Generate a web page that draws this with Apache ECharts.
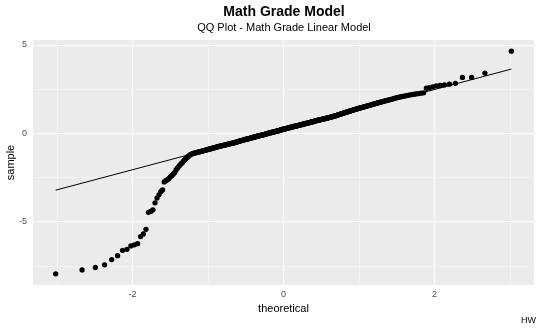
<!DOCTYPE html>
<html>
<head>
<meta charset="utf-8">
<script src="https://cdn.jsdelivr.net/npm/echarts@6/dist/echarts.min.js"></script>
<style>
  html, body { margin: 0; padding: 0; background: #ffffff; }
  #chart { width: 540px; height: 333px; }
</style>
</head>
<body>
<div id="chart"></div>
<script>
// Sorted residuals of the math grade linear model (395 students)
const sampleResiduals = [
  -7.95, -7.73, -7.59, -7.44, -7.14, -6.92, -6.62, -6.56, -6.37, -6.31, -6.24, -5.84, -5.69, -5.43,
  -4.47, -4.42, -4.33, -3.93, -3.66, -3.48, -3.30, -3.20, -2.75, -2.68, -2.62, -2.55, -2.45, -2.38, -2.30,
  -2.22, -2.07, -1.97, -1.88, -1.80, -1.72, -1.66, -1.58, -1.50, -1.44, -1.38, -1.32, -1.27, -1.22, -1.19,
  -1.16, -1.14, -1.13, -1.11, -1.10,
  -1.08, -1.07, -1.06, -1.04, -1.03, -1.02, -1.00, -0.99, -0.98, -0.96,
  -0.95, -0.94, -0.93, -0.91, -0.90, -0.89, -0.88, -0.87, -0.85, -0.84,
  -0.83, -0.82, -0.81, -0.80, -0.79, -0.77, -0.76, -0.75, -0.74, -0.73,
  -0.72, -0.71, -0.70, -0.69, -0.68, -0.68, -0.67, -0.66, -0.65, -0.64,
  -0.63, -0.62, -0.61, -0.61, -0.60, -0.59, -0.58, -0.57, -0.57, -0.56,
  -0.55, -0.54, -0.53, -0.52, -0.51, -0.50, -0.49, -0.48, -0.47, -0.46,
  -0.45, -0.44, -0.43, -0.42, -0.41, -0.41, -0.40, -0.39, -0.38, -0.37,
  -0.36, -0.35, -0.34, -0.34, -0.33, -0.32, -0.31, -0.30, -0.30, -0.29,
  -0.28, -0.27, -0.26, -0.26, -0.25, -0.24, -0.23, -0.22, -0.22, -0.21,
  -0.20, -0.19, -0.18, -0.18, -0.17, -0.16, -0.15, -0.14, -0.14, -0.13,
  -0.12, -0.11, -0.11, -0.10, -0.09, -0.09, -0.08, -0.07, -0.07, -0.06,
  -0.05, -0.04, -0.03, -0.03, -0.02, -0.01, 0.00, 0.01, 0.01, 0.02,
  0.03, 0.04, 0.04, 0.05, 0.06, 0.06, 0.07, 0.08, 0.08, 0.09,
  0.10, 0.11, 0.11, 0.12, 0.13, 0.13, 0.14, 0.15, 0.15, 0.16,
  0.17, 0.18, 0.19, 0.19, 0.20, 0.21, 0.22, 0.23, 0.23, 0.24,
  0.25, 0.26, 0.26, 0.27, 0.28, 0.28, 0.29, 0.30, 0.30, 0.31,
  0.32, 0.33, 0.33, 0.34, 0.35, 0.35, 0.36, 0.37, 0.37, 0.38,
  0.39, 0.40, 0.40, 0.41, 0.42, 0.42, 0.43, 0.44, 0.44, 0.45,
  0.46, 0.47, 0.47, 0.48, 0.49, 0.49, 0.50, 0.51, 0.51, 0.52,
  0.53, 0.54, 0.54, 0.55, 0.56, 0.56, 0.57, 0.58, 0.58, 0.59,
  0.60, 0.61, 0.62, 0.62, 0.63, 0.64, 0.65, 0.66, 0.66, 0.67,
  0.68, 0.69, 0.70, 0.70, 0.71, 0.72, 0.73, 0.74, 0.74, 0.75,
  0.76, 0.77, 0.77, 0.78, 0.79, 0.79, 0.80, 0.81, 0.81, 0.82,
  0.83, 0.84, 0.85, 0.85, 0.86, 0.87, 0.88, 0.89, 0.89, 0.90,
  0.91, 0.92, 0.93, 0.94, 0.95, 0.96, 0.97, 0.98, 0.99, 1.00,
  1.01, 1.02, 1.03, 1.05, 1.06, 1.07, 1.08, 1.09, 1.11, 1.12,
  1.13, 1.14, 1.15, 1.17, 1.18, 1.19, 1.20, 1.21, 1.23, 1.24,
  1.25, 1.26, 1.28, 1.29, 1.30, 1.32, 1.33, 1.34, 1.35, 1.37,
  1.38, 1.39, 1.41, 1.42, 1.43, 1.45, 1.46, 1.47, 1.48, 1.50,
  1.51, 1.52, 1.54, 1.55, 1.57, 1.58, 1.60, 1.61, 1.63, 1.64,
  1.66, 1.68, 1.69, 1.71, 1.73, 1.74, 1.76, 1.78, 1.79, 1.81,
  1.83, 1.85, 1.87, 1.88, 1.90,
  1.92, 1.94, 1.96, 1.99, 2.01,
  2.03, 2.05, 2.07, 2.09, 2.11,
  2.13, 2.15, 2.17, 2.19, 2.21,
  2.23, 2.25, 2.27, 2.29,
  2.55, 2.58, 2.63, 2.68, 2.71, 2.74, 2.78, 2.83, 3.16, 3.16, 3.41, 4.65
];

// Axis breaks
const xMajorBreaks = [-2, 0, 2];
const xMinorBreaks = [-3, -1, 1, 3];
const yMajorBreaks = [-5, 0, 5];
const yMinorBreaks = [-7.5, -2.5, 2.5];

const FONT = '"Liberation Sans", Arial, sans-serif';

// Inverse standard normal CDF (Acklam's rational approximation)
function normalQuantile(p) {
  const a = [-3.969683028665376e+01, 2.209460984245205e+02, -2.759285104469687e+02,
             1.383577518672690e+02, -3.066479806614716e+01, 2.506628277459239e+00];
  const b = [-5.447609879822406e+01, 1.615858368580409e+02, -1.556989798598866e+02,
             6.680131188771972e+01, -1.328068155288572e+01];
  const c = [-7.784894002430293e-03, -3.223964580411365e-01, -2.400758277161838e+00,
             -2.549732539343734e+00, 4.374664141464968e+00, 2.938163982698783e+00];
  const d = [7.784695709041462e-03, 3.224671290700398e-01, 2.445134137142996e+00,
             3.754408661907416e+00];
  const pLow = 0.02425, pHigh = 1 - pLow;
  let q, r;
  if (p < pLow) {
    q = Math.sqrt(-2 * Math.log(p));
    return (((((c[0] * q + c[1]) * q + c[2]) * q + c[3]) * q + c[4]) * q + c[5]) /
           ((((d[0] * q + d[1]) * q + d[2]) * q + d[3]) * q + 1);
  }
  if (p <= pHigh) {
    q = p - 0.5; r = q * q;
    return (((((a[0] * r + a[1]) * r + a[2]) * r + a[3]) * r + a[4]) * r + a[5]) * q /
           (((((b[0] * r + b[1]) * r + b[2]) * r + b[3]) * r + b[4]) * r + 1);
  }
  q = Math.sqrt(-2 * Math.log(1 - p));
  return -(((((c[0] * q + c[1]) * q + c[2]) * q + c[3]) * q + c[4]) * q + c[5]) /
          ((((d[0] * q + d[1]) * q + d[2]) * q + d[3]) * q + 1);
}

// Sample quantile, R type 7
function quantile7(sorted, p) {
  const h = (sorted.length - 1) * p;
  const lo = Math.floor(h);
  const hi = Math.min(lo + 1, sorted.length - 1);
  return sorted[lo] + (h - lo) * (sorted[hi] - sorted[lo]);
}

const sorted = sampleResiduals.slice().sort((u, v) => u - v);
const n = sorted.length;
const qqPoints = sorted.map((s, i) => [normalQuantile((i + 1 - 0.5) / n), s]);

// Reference line through the first and third quartiles
const q1 = quantile7(sorted, 0.25), q3 = quantile7(sorted, 0.75);
const z1 = normalQuantile(0.25), z3 = normalQuantile(0.75);
const slope = (q3 - q1) / (z3 - z1);
const intercept = q1 - slope * z1;
const tMin = qqPoints[0][0], tMax = qqPoints[n - 1][0];
const qqLine = [[tMin, intercept + slope * tMin], [tMax, intercept + slope * tMax]];

function gridLines(values, axisKey, color, width) {
  return values.map(v => ({ [axisKey]: v, lineStyle: { color: color, width: width, type: 'solid' } }));
}

const chart = echarts.init(document.getElementById('chart'), null, { renderer: 'canvas' });

chart.setOption({
  animation: false,
  backgroundColor: '#ffffff',
  textStyle: { fontFamily: FONT },
  grid: {
    left: 33, right: 6, top: 40, bottom: 48,
    containLabel: false,
    outerBoundsMode: 'none',
    show: true, backgroundColor: '#EBEBEB', borderWidth: 0
  },
  xAxis: {
    type: 'value',
    min: -3.32, max: 3.32,
    splitLine: { show: false },
    axisLine: { show: false },
    axisTick: { show: true, customValues: xMajorBreaks, length: 3, lineStyle: { color: '#333333', width: 1 } },
    axisLabel: { customValues: xMajorBreaks, color: '#4D4D4D', fontSize: 9, margin: 5, fontFamily: FONT },
    name: 'theoretical',
    nameLocation: 'middle',
    nameGap: 16,
    nameTextStyle: { color: '#000000', fontSize: 11, fontFamily: FONT }
  },
  yAxis: {
    type: 'value',
    min: -8.58, max: 5.28,
    splitLine: { show: false },
    axisLine: { show: false },
    axisTick: { show: true, customValues: yMajorBreaks, length: 3, lineStyle: { color: '#333333', width: 1 } },
    axisLabel: { customValues: yMajorBreaks, color: '#4D4D4D', fontSize: 9, margin: 6, fontFamily: FONT },
    name: 'sample',
    nameLocation: 'middle',
    nameRotate: 90,
    nameGap: 17,
    nameMoveOverlap: false,
    nameTextStyle: { color: '#000000', fontSize: 11, fontFamily: FONT }
  },
  graphic: [
    { type: 'text', x: 284, y: 12, silent: true,
      style: { text: 'Math Grade Model', textAlign: 'center', textVerticalAlign: 'middle',
               font: 'bold 14px ' + FONT, fill: '#000000' } },
    { type: 'text', x: 284, y: 28, silent: true,
      style: { text: 'QQ Plot - Math Grade Linear Model', textAlign: 'center', textVerticalAlign: 'middle',
               font: '11px ' + FONT, fill: '#000000' } },
    { type: 'text', x: 536, y: 321, silent: true,
      style: { text: 'HW', textAlign: 'right', textVerticalAlign: 'middle',
               font: '9px ' + FONT, fill: '#000000' } }
  ],
  series: [
    {
      name: 'grid',
      type: 'line',
      data: [],
      z: 1,
      silent: true,
      markLine: {
        silent: true,
        z: 1,
        symbol: ['none', 'none'],
        label: { show: false },
        emphasis: { disabled: true },
        animation: false,
        data: [].concat(
          gridLines(xMinorBreaks, 'xAxis', '#F5F5F5', 0.8),
          gridLines(yMinorBreaks, 'yAxis', '#F5F5F5', 0.8),
          gridLines(xMajorBreaks, 'xAxis', '#FFFFFF', 1.2),
          gridLines(yMajorBreaks, 'yAxis', '#FFFFFF', 1.2)
        )
      }
    },
    {
      name: 'sample',
      type: 'scatter',
      data: qqPoints,
      symbol: 'circle',
      symbolSize: 5.3,
      z: 3,
      itemStyle: { color: '#000000', opacity: 1 },
      silent: true
    },
    {
      name: 'qq line',
      type: 'line',
      data: qqLine,
      showSymbol: false,
      symbol: 'none',
      z: 4,
      silent: true,
      lineStyle: { color: '#000000', width: 1 }
    }
  ]
});
</script>
</body>
</html>
